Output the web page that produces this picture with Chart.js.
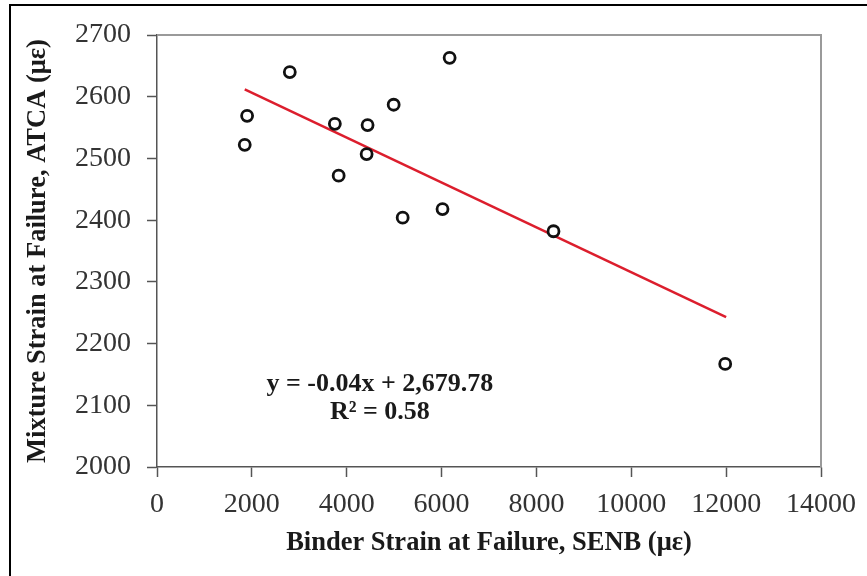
<!DOCTYPE html>
<html>
<head>
<meta charset="utf-8">
<script src="https://cdn.jsdelivr.net/npm/chart.js@4.4.1/dist/chart.umd.min.js"></script>
<style>
    html, body { margin: 0; padding: 0; background: #fff; }
    #wrap { width: 867px; height: 576px; position: relative; }
</style>
</head>
<body>
<div id="wrap"><canvas id="strainChart" width="867" height="576"></canvas></div>
<script>
// Binder strain (SENB) vs mixture strain (ATCA)
const binderStrain  = [1850, 1900, 2800, 3750, 3830, 4420, 4440, 4990, 5180, 6020, 6170, 8360, 11980];
const mixtureStrain = [2522, 2569, 2640, 2556, 2472, 2507, 2554, 2587, 2404, 2418, 2663, 2382, 2167];

// linear trendline end points
const trendX = [1850, 12000];
const trendY = [2612, 2243];

const xTicks = [0, 2000, 4000, 6000, 8000, 10000, 12000, 14000];
const yTicks = [2000, 2100, 2200, 2300, 2400, 2500, 2600, 2700];

const eqLines = ["y = -0.04x + 2,679.78", "R\u00b2 = 0.58"];
const eqAnchor = { x: 4700, y: [2134, 2088] };

const serif = "'Liberation Serif', 'Times New Roman', serif";

document.addEventListener("DOMContentLoaded", function () {
    const ctx = document.getElementById("strainChart").getContext("2d");

    const points = binderStrain.map((x, i) => ({ x: x, y: mixtureStrain[i] }));
    const trend = trendX.map((x, i) => ({ x: x, y: trendY[i] }));

    // frame lines + equation text
    const decor = {
        id: "decor",
        beforeDatasetsDraw(chart) {
            const c = chart.ctx;
            const a = chart.chartArea;
            c.save();
            c.strokeStyle = "#9a9a9a";
            c.lineWidth = 2;
            c.beginPath();
            c.moveTo(a.left, a.top);
            c.lineTo(a.right, a.top);
            c.lineTo(a.right, a.bottom);
            c.stroke();
            // outer chart border (left + top)
            c.strokeStyle = "#000";
            c.lineWidth = 2;
            c.beginPath();
            c.moveTo(10, chart.height);
            c.lineTo(10, 5);
            c.lineTo(chart.width, 5);
            c.stroke();
            c.restore();
        },
        afterDatasetsDraw(chart) {
            const c = chart.ctx;
            const xs = chart.scales.x, ys = chart.scales.y;
            c.save();
            c.fillStyle = "#1a1a1a";
            c.font = "bold 26px " + serif;
            c.textAlign = "center";
            c.textBaseline = "middle";
            eqLines.forEach((t, i) => {
                c.fillText(t, xs.getPixelForValue(eqAnchor.x), ys.getPixelForValue(eqAnchor.y[i]));
            });
            c.restore();
        }
    };

    new Chart(ctx, {
        type: "scatter",
        data: {
            datasets: [{
                label: "Data",
                data: points,
                pointStyle: "circle",
                pointRadius: 5.5,
                pointHoverRadius: 5.5,
                pointBorderWidth: 2.8,
                pointBorderColor: "#111",
                pointBackgroundColor: "#fff",
                order: 1
            }, {
                type: "line",
                label: "Trend",
                data: trend,
                borderColor: "rgb(220, 30, 45)",
                borderWidth: 2.5,
                pointRadius: 0,
                fill: false,
                order: 2
            }]
        },
        options: {
            responsive: false,
            animation: false,
            layout: { padding: { left: 12, top: 35, right: 45, bottom: 0 } },
            plugins: {
                legend: { display: false },
                tooltip: { enabled: false }
            },
            scales: {
                x: {
                    type: "linear",
                    min: 0,
                    max: 14000,
                    afterFit: s => { s.height = 109; },
                    afterBuildTicks: s => { s.ticks = xTicks.map(v => ({ value: v })); },
                    border: { color: "#555", width: 1.5 },
                    grid: { drawOnChartArea: false, drawTicks: true, tickLength: 10, tickColor: "#555", tickWidth: 1.5 },
                    ticks: {
                        color: "#333", padding: 11, maxRotation: 0,
                        font: { family: serif, size: 28 },
                        callback: v => String(v)
                    },
                    title: {
                        display: true,
                        text: "Binder Strain at Failure, SENB (\u03bc\u03b5)",
                        color: "#1a1a1a",
                        padding: { bottom: 17 },
                        font: { family: serif, size: 26.5, weight: "bold" }
                    }
                },
                y: {
                    type: "linear",
                    min: 2000,
                    max: 2700,
                    afterFit: s => { s.width = 145; },
                    afterBuildTicks: s => { s.ticks = yTicks.map(v => ({ value: v })); },
                    border: { color: "#555", width: 1.5 },
                    grid: { drawOnChartArea: false, drawTicks: true, tickLength: 10, tickColor: "#555", tickWidth: 1.5 },
                    ticks: {
                        color: "#333", padding: 16,
                        font: { family: serif, size: 28 },
                        callback: v => String(v)
                    },
                    title: {
                        display: true,
                        text: "Mixture Strain at Failure, ATCA (\u03bc\u03b5)",
                        color: "#1a1a1a",
                        padding: { top: 10 },
                        font: { family: serif, size: 26.5, weight: "bold" }
                    }
                }
            }
        },
        plugins: [decor]
    });
});
</script>
</body>
</html>
